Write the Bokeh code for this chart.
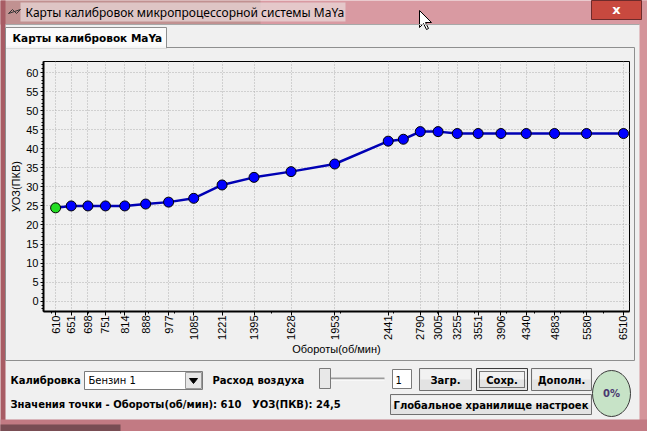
import math
from bokeh.plotting import figure
from bokeh.models import Range1d, FixedTicker, NumeralTickFormatter, LinearScale
from bokeh.core.properties import value
from bokeh.embed import file_html
from bokeh.resources import INLINE

# данные калибровки
rpm = [610, 651, 698, 751, 814, 888, 977, 1085, 1221, 1395, 1628, 1953,
       2441, 2600, 2790, 3005, 3255, 3551, 3906, 4340, 4883, 5580, 6510]
uoz = [24.5, 25, 25, 25, 25, 25.5, 26, 27, 30.5, 32.5, 34, 36,
       42, 42.5, 44.5, 44.5, 44, 44, 44, 44, 44, 44, 44]
rpm_ticks = [610, 651, 698, 751, 814, 888, 977, 1085, 1221, 1395, 1628, 1953,
             2441, 2790, 3005, 3255, 3551, 3906, 4340, 4883, 5580, 6510]
rpm_minor = [600, 700, 800, 900, 1000, 1500, 2000, 2500, 3000, 3500,
             4000, 4500, 5000, 5500, 6000, 6500]
uoz_ticks = [0, 5, 10, 15, 20, 25, 30, 35, 40, 45, 50, 55, 60]
selected = 0  # выбранная точка (зелёная)

UI = "DejaVu Sans"
ARIAL = "Liberation Sans"
BG = "#f0f0f0"

# одна фигура: рамка = область графика, окно вокруг рисуется в пикселях
p = figure(width=647, height=431, x_axis_type="log",
           x_range=Range1d(580, 6675), y_range=Range1d(-2.7, 62.9),
           min_border_left=43, min_border_right=18, min_border_top=61, min_border_bottom=120,
           toolbar_location=None, output_backend="svg",
           background_fill_color=BG, border_fill_color=BG,
           outline_line_color="black", outline_line_width=1)
# пиксельные координаты окна (рамка графика: x 43..629, y 61..311)
p.extra_x_ranges = {"px": Range1d(43, 629)}
p.extra_y_ranges = {"px": Range1d(311, 61)}
p.extra_x_scales = {"px": LinearScale()}
p.extra_y_scales = {"px": LinearScale()}

PX = dict(x_range_name="px", y_range_name="px", level="overlay")


def box(x0, x1, y0, y1, fill, line=None, **kw):
    p.quad(left=[x0], right=[x1], top=[y0], bottom=[y1], fill_color=fill,
           line_color=line, **PX, **kw)


def seg(xs, ys, color, width=1, **kw):
    p.line(x=xs, y=ys, line_color=color, line_width=width, **PX, **kw)


def label(x, y, s, size="10px", bold=False, align="left", color="black", font=UI):
    p.text(x=[x], y=[y], text=[s], text_font=value(font), text_font_size=size,
           text_font_style="bold" if bold else "normal", text_align=align,
           text_baseline="middle", text_color=color, **PX)


def button(x0, x1, y0, y1, s, focused=False):
    box(x0, x1, y0, y1, "#e3e3e3", "#3c3c3c" if focused else "#707070")
    box(x0 + 1, x1 - 1, y0 + 1, (y0 + y1) / 2, "#f2f2f2")
    if focused:
        box(x0 + 3, x1 - 3, y0 + 3, y1 - 3, None, "black", line_dash="1 1")
    label((x0 + x1) / 2, (y0 + y1) / 2 + 0.5, s, bold=True, align="center")


# ---- оси и сетка графика
p.xaxis.ticker = FixedTicker(ticks=rpm_ticks, minor_ticks=rpm_minor)
p.xaxis.formatter = NumeralTickFormatter(format="0")
p.xaxis.major_label_orientation = math.pi / 2
p.yaxis.ticker = FixedTicker(ticks=uoz_ticks, minor_ticks=list(range(-2, 63)))
p.xgrid.ticker = FixedTicker(ticks=rpm_ticks)
p.ygrid.ticker = FixedTicker(ticks=uoz_ticks)
p.grid.grid_line_color = "#b0b0b0"
p.grid.grid_line_dash = "1 2"

p.xaxis.axis_label = "Обороты(об/мин)"
p.yaxis.axis_label = "УОЗ(ПКВ)"
for ax in (p.xaxis, p.yaxis):
    ax.axis_line_width = 2
    ax.axis_line_color = "black"
    ax.major_tick_in = 0
    ax.minor_tick_in = 0
    ax.minor_tick_out = 2
    ax.major_label_text_font = ARIAL
    ax.major_label_text_font_size = "11px"
    ax.major_label_text_color = "black"
    ax.axis_label_text_font = ARIAL
    ax.axis_label_text_font_size = "11px"
    ax.axis_label_text_font_style = "normal"
    ax.axis_label_text_color = "black"
p.xaxis.major_tick_out = 4
p.xaxis.major_label_standoff = 0
p.xaxis.axis_label_standoff = 0
p.yaxis.major_tick_out = 3
p.yaxis.major_label_standoff = 2
p.yaxis.axis_label_standoff = 1

colors = ["#22dd22" if i == selected else "#0000ff" for i in range(len(rpm))]
p.line(rpm, uoz, line_color="#0000b4", line_width=2.5)
p.scatter(rpm, uoz, size=10, fill_color=colors, line_color="black", line_width=1)

# ---- рамка окна и заголовок
box(0, 647, 0, 24, "#d99aa2")
box(0, 260, 0, 24, "#b08c86", fill_alpha=0.6)
box(20, 345, 2, 21, "#eadcdc", fill_alpha=0.7)
box(0, 5, 0, 431, "#a85c64")
box(639, 647, 0, 431, "#d4949a")
box(0, 647, 419, 431, "#c27a83")
box(0, 120, 424, 431, "#5a3a40", fill_alpha=0.7)
box(591, 641, 0, 19, "#c8493f", "#6e2b2b")
label(616, 9, "x", size="13px", bold=True, align="center", color="white")
p.patch(x=[8, 12, 16, 20], y=[13, 9, 13, 9], fill_color=None, line_color="#333333", **PX)
label(25, 12, "Карты калибровок микропроцессорной системы MaYa", size="12px", font="Noto Sans")
p.patch(x=[419, 419, 423, 426, 428, 425, 431], y=[10, 27, 23, 29, 28, 22, 22],
        fill_color="white", line_color="black", **PX)
seg([5, 639], [24, 24], "#a8a8a8")

# ---- вкладка
seg([166, 634, 634, 5, 5], [47, 47, 360, 360, 47], "#8e8f8f")
box(5, 166, 27, 47.5, "#fbfbfb", "#8e8f8f")
box(5.5, 165.5, 46, 48, "#f4f4f4")
label(12, 37.5, "Карты калибровок MaYa", size="10.5px", bold=True)

# ---- элементы управления
label(10, 380, "Калибровка", bold=True)
box(84, 202, 371, 389, "white", "#7a7a7a")
label(88, 380, "Бензин 1")
box(185, 201, 372, 388, "#e6e6e6", "#9a9a9a")
p.patch(x=[189, 197, 193], y=[378, 378, 383], fill_color="black", line_color="black", **PX)

label(212, 380, "Расход воздуха", bold=True)
seg([322, 384], [378, 378], "#9a9a9a", 2)
seg([322, 384], [379.5, 379.5], "white")
box(319, 330, 368, 388, "#e8e8e8", "#7a7a7a")

box(392, 411, 369, 388, "white", "#7a7a7a")
label(395, 379, "1")

button(419, 471, 368, 390, "Загр.")
button(476, 527, 368, 390, "Сохр.", focused=True)
button(531, 591, 368, 390, "Дополн.")
button(390, 591, 394, 414, "Глобальное хранилище настроек")

p.ellipse(x=[611], y=[393], width=[38], height=[46], fill_color="#c7e3c7",
          line_color="#3a3a3a", **PX)
label(611, 393, "0%", bold=True, align="center", color="#4a3870")

gap = "\u00a0" * 3
sel_text = "Значения точки - Обороты(об/мин): %d%sУОЗ(ПКВ): %s" % (
    rpm[selected], gap, ("%g" % uoz[selected]).replace(".", ","))
label(10, 404, sel_text, bold=True)

open("out.html", "w").write(file_html(p, INLINE))
